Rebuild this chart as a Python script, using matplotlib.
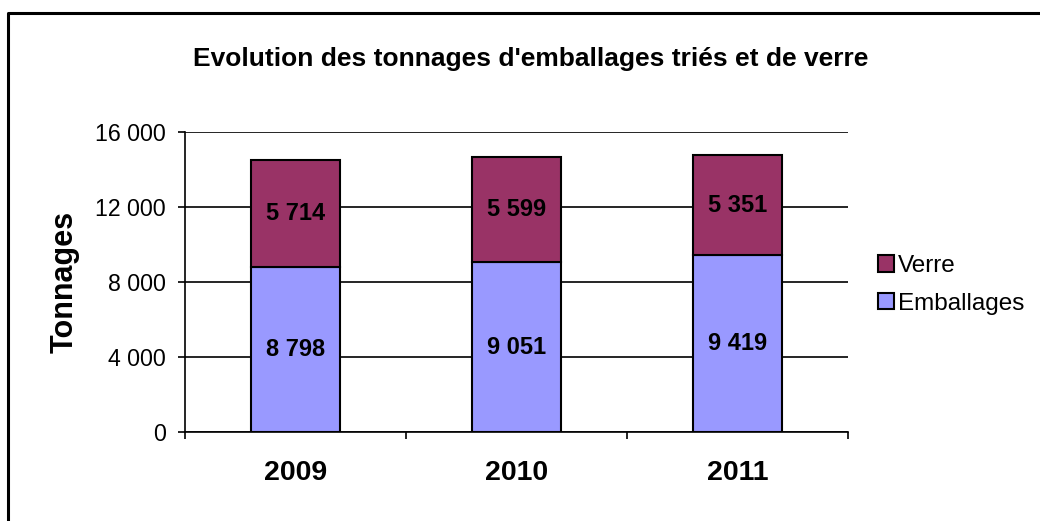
"""
Evolution des tonnages d'emballages triés et de verre
- barres empilées (Emballages + Verre)
"""
import matplotlib
matplotlib.use('Agg')
import matplotlib.pyplot as plt
from matplotlib.patches import Patch
from matplotlib.lines import Line2D

plt.rcParams['font.family'] = ['Liberation Sans', 'DejaVu Sans']

# données
annees = ['2009', '2010', '2011']
emballages = [8798, 9051, 9419]
verre = [5714, 5599, 5351]
yticks = [0, 4000, 8000, 12000, 16000]
ytick_labels = ['0', '4 000', '8 000', '12 000', '16 000']

COUL_VERRE = '#993366'
COUL_EMB = '#9999FF'


def fmt(v):
    return f'{v:,}'.replace(',', ' ')


fig = plt.figure(figsize=(10.4, 5.21), dpi=100)
ax = fig.add_axes([185 / 1040, 1 - 432 / 521, 663 / 1040, 300 / 521])

x = list(range(len(annees)))
b1 = ax.bar(x, emballages, width=0.4, color=COUL_EMB, edgecolor='black', linewidth=1.5, zorder=3)
b2 = ax.bar(x, verre, width=0.4, bottom=emballages, color=COUL_VERRE, edgecolor='black',
            linewidth=1.5, zorder=3)

# étiquettes des valeurs
for i in x:
    ax.text(i, emballages[i] / 2, fmt(emballages[i]), ha='center', va='center',
            fontsize=17, fontweight='bold', zorder=4)
    ax.text(i, emballages[i] + verre[i] / 2, fmt(verre[i]), ha='center', va='center',
            fontsize=17, fontweight='bold', zorder=4)

ax.set_xlim(-0.5, len(annees) - 0.5)
ax.set_ylim(0, 16000)
ax.set_yticks(yticks)
ax.set_yticklabels(ytick_labels, fontsize=16.7)
ax.tick_params(axis='y', direction='out', length=5, width=1.2, pad=9)

ax.set_xticks(x)
ax.set_xticklabels(annees, fontsize=20.5, fontweight='bold')
ax.tick_params(axis='x', which='major', length=0, pad=20.5)
ax.set_xticks([i - 0.5 for i in range(len(annees) + 1)], minor=True)
ax.tick_params(axis='x', which='minor', direction='out', length=5, width=1.2)

ax.grid(axis='y', color='black', linewidth=1.2, zorder=0)
for s in ['top', 'right']:
    ax.spines[s].set_visible(False)
ax.spines['left'].set_linewidth(1.2)
ax.spines['bottom'].set_linewidth(1.2)

ax.set_ylabel('Tonnages', fontsize=22, fontweight='bold', labelpad=11)

fig.text(531 / 1040, 1 - 59 / 521, "Evolution des tonnages d'emballages triés et de verre",
         ha='center', va='center', fontsize=19, fontweight='bold')

# légende
handles = [Patch(facecolor=COUL_VERRE, edgecolor='black', linewidth=1.5, label='Verre'),
           Patch(facecolor=COUL_EMB, edgecolor='black', linewidth=1.5, label='Emballages')]
fig.legend(handles=handles, loc='center left', bbox_to_anchor=(868 / 1040, 1 - 285 / 521),
           frameon=False, fontsize=17.5, handlelength=0.65, handleheight=0.65,
           handletextpad=0.2, labelspacing=0.65, borderaxespad=0)

# cadre
fig.add_artist(Line2D([7.5 / 1040, 7.5 / 1040, 1], [0, 1 - 12.5 / 521, 1 - 12.5 / 521],
                      transform=fig.transFigure, color='black', linewidth=2.2))

fig.savefig('out.png', dpi=100)
